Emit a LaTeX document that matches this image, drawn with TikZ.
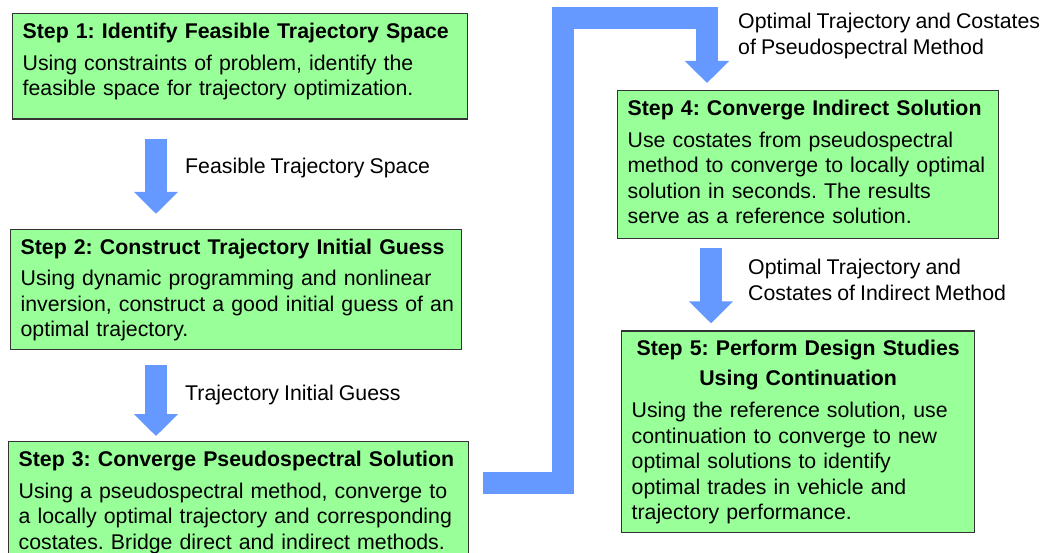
\documentclass[tikz,border=0pt]{standalone}
\usepackage{fontspec}
\setmainfont{Liberation Sans}[WordSpace=0.85]
\usetikzlibrary{arrows.meta,positioning}

\definecolor{stepgreen}{HTML}{99FF99}
\definecolor{stepline}{HTML}{333333}
\definecolor{flowblue}{HTML}{6699FF}

\frenchspacing
\newcommand{\steptitle}[1]{{\bfseries\rule{0pt}{17pt}#1\par}\vspace{6pt}}
\newcommand{\lastline}[1]{\rule[-#1]{0pt}{#1}}

\begin{document}
\begin{tikzpicture}[
  x=1pt, y=-1pt,
  stepbox/.style={draw=stepline, fill=stepgreen, line width=1.3pt, anchor=north west,
    inner xsep=10pt, inner ysep=8pt, align=left, font=\frenchspacing\fontsize{21.3}{25.5}\selectfont},
  flowlabel/.style={anchor=west, inner sep=0pt, align=left, font=\frenchspacing\fontsize{21.3}{26}\selectfont},
  blockarrow/.style={draw=flowblue, line width=22pt, -{Triangle[length=22pt,width=43pt]}}
]
\useasboundingbox (0,0) rectangle (1048,553);

% left column
\node[stepbox, text width=435pt] (s1) at (12,13) {\steptitle{Step 1: Identify Feasible Trajectory Space}
Using constraints of problem, identify the\\
feasible space for trajectory optimization.\lastline{15.5pt}};
\node[stepbox, text width=431pt, below=109pt of s1.south west, anchor=north west, xshift=-2pt] (s2) {\steptitle{Step 2: Construct Trajectory Initial Guess}
Using dynamic programming and nonlinear\\
\mbox{inversion, construct a good initial guess of an}\\
optimal trajectory.};
\node[stepbox, text width=440pt, below=91pt of s2.south west, anchor=north west, xshift=-2pt] (s3) {\steptitle{Step 3: Converge Pseudospectral Solution}
Using a pseudospectral method, converge to\\
\mbox{a locally optimal trajectory and corresponding}\\
costates. Bridge direct and indirect methods.\\
\strut};

% right column
\node[stepbox, text width=361pt] (s4) at (617,90) {\steptitle{Step 4: Converge Indirect Solution}
Use costates from pseudospectral\\
method to converge to locally optimal\\
solution in seconds. The results\\
serve as a reference solution.\lastline{7pt}};
\node[stepbox, text width=333pt, below=91pt of s4.south west, anchor=north west, xshift=4pt] (s5) {{\bfseries\centering\baselineskip=30pt
\rule{0pt}{17pt}Step 5: Perform Design Studies\\
Using Continuation\par}\vspace{6.5pt}
Using the reference solution, use\\
continuation to converge to new\\
optimal solutions to identify\\
optimal trades in vehicle and\\
trajectory performance.};

% arrows
\coordinate (a1) at ([xshift=144pt]s1.south west);
\coordinate (a2) at ([xshift=146pt]s2.south west);
\coordinate (a4) at ([xshift=94pt]s4.south west);
\coordinate (bend) at (563,18.5);

\draw[blockarrow, shorten <=19pt, shorten >=15pt] (a1) -- (a1 |- s2.north);
\draw[blockarrow, shorten <=15pt, shorten >=5pt] (a2) -- (a2 |- s3.north);
\draw[blockarrow, shorten <=9pt, shorten >=7pt] (a4) -- (a4 |- s5.north);
\draw[blockarrow, shorten >=7pt] ([shift={(14pt,-41.5pt)}]s3.north east) -| (bend) -| ([xshift=90pt]s4.north west);

% labels
\node[flowlabel] (lspace) at (185,168) {Feasible Trajectory Space};
\node[flowlabel] (lguess) at (185,395) {Trajectory Initial Guess};
\node[flowlabel] (lpseudo) at (738,36) {Optimal Trajectory and Costates\\of Pseudospectral Method};
\node[flowlabel] (lindirect) at (748,280) {Optimal Trajectory and\\Costates of Indirect Method};
\end{tikzpicture}
\end{document}
